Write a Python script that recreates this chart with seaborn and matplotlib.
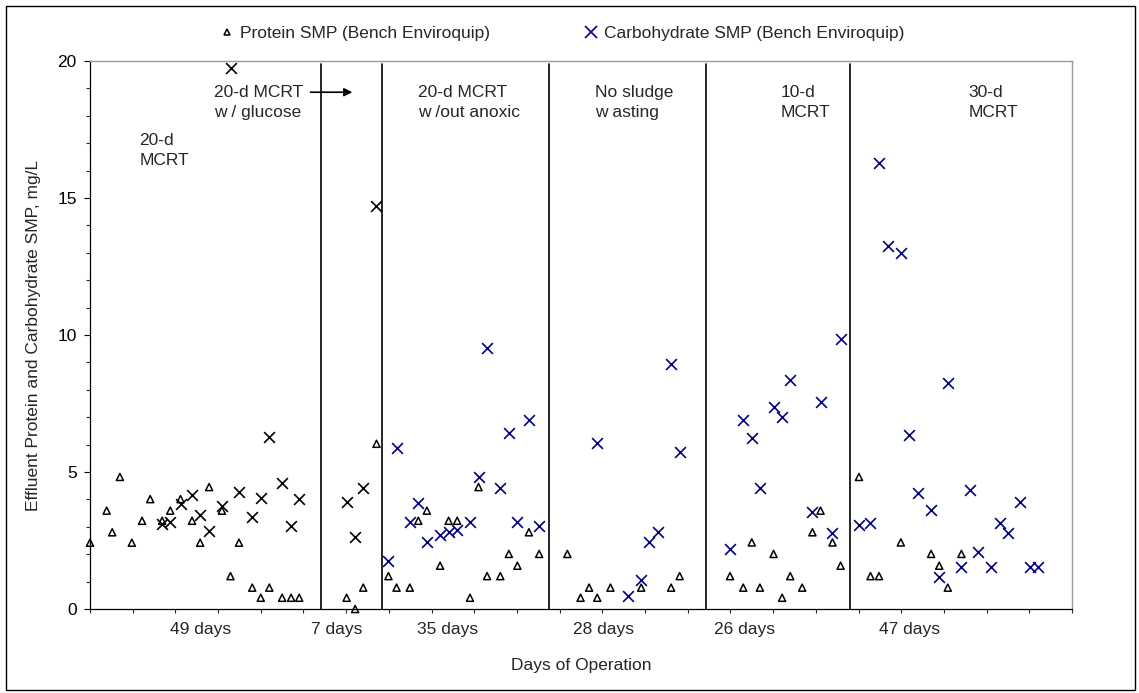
import matplotlib
matplotlib.use("Agg")
import matplotlib.pyplot as plt
import seaborn as sns
import numpy as np
from matplotlib.patches import Rectangle

# ---------------- data ----------------
protein_day = [0.0, 3.9, 5.2, 7.0, 9.8, 12.2, 14.1, 16.9, 18.8, 21.2, 23.9, 25.8, 27.9,
               30.9, 32.9, 34.9, 38.0, 40.0, 42.0, 45.0, 47.1, 49.0,
               60.1, 62.1, 64.0, 67.1,
               69.9, 71.8, 74.9, 76.9, 78.9, 82.0, 84.0, 86.0, 89.0, 91.0, 93.0, 96.1,
               98.1, 100.1, 102.8, 105.2,
               111.8, 114.9, 116.9, 118.8, 121.9, 129.1, 136.1, 138.1,
               149.9, 153.0, 155.0, 156.9, 160.1, 162.1, 164.0, 166.8, 169.2, 171.1,
               173.9, 175.8,
               180.1, 182.8, 184.8, 189.9, 197.0, 198.9, 200.9, 204.1]
protein_smp = [2.42, 3.59, 2.80, 4.82, 2.42, 3.22, 4.01, 3.22, 3.59, 4.01, 3.22, 2.42, 4.45,
               3.59, 1.20, 2.42, 0.78, 0.41, 0.78, 0.41, 0.41, 0.41,
               0.41, 0.00, 0.78, 6.03,
               1.20, 0.78, 0.78, 3.22, 3.59, 1.58, 3.22, 3.22, 0.41, 4.45, 1.20, 1.20,
               2.01, 1.58, 2.80, 2.01,
               2.01, 0.41, 0.78, 0.41, 0.78, 0.78, 0.78, 1.20,
               1.20, 0.78, 2.43, 0.78, 2.01, 0.41, 1.20, 0.78, 2.80, 3.59,
               2.43, 1.58,
               4.82, 1.20, 1.20, 2.43, 2.01, 1.58, 0.78, 2.01]

carb_day = [16.9, 18.8, 21.2, 23.9, 25.8, 27.9, 30.9, 33.0, 34.9, 38.0, 40.0, 42.0, 45.0,
            47.1, 49.0,
            60.1, 62.1, 64.0, 67.0,
            69.9, 71.8, 74.9, 76.9, 78.9, 82.0, 84.0, 86.0, 89.0, 91.0, 93.1, 96.1,
            98.1, 100.1, 102.8, 105.2,
            118.8, 125.9, 129.1, 131.0, 133.0, 136.1, 138.1,
            149.9, 153.0, 155.0, 156.9, 160.1, 162.1, 164.0, 169.2, 171.1, 173.9, 175.8,
            180.1, 182.8, 184.9, 186.8, 189.9, 191.8, 193.9, 197.0, 198.9, 200.9, 204.1,
            206.0, 208.0, 211.1, 213.1, 215.0, 217.8, 220.1, 222.0]
carb_smp = [3.09, 3.16, 3.83, 4.16, 3.43, 2.86, 3.76, 19.73, 4.28, 3.37, 4.04, 6.29, 4.59,
            3.04, 4.01,
            3.92, 2.62, 4.40, 14.72,
            1.76, 5.86, 3.16, 3.86, 2.43, 2.70, 2.82, 2.88, 3.16, 4.83, 9.54, 4.40,
            6.41, 3.16, 6.90, 3.04,
            6.05, 0.47, 1.06, 2.43, 2.80, 8.93, 5.74,
            2.19, 6.90, 6.23, 4.40, 7.38, 7.02, 8.36, 3.53, 7.57, 2.76, 9.84,
            3.07, 3.13, 16.27, 13.26, 13.00, 6.35, 4.22, 3.61, 1.16, 8.26, 1.52,
            4.34, 2.09, 1.52, 3.13, 2.76, 3.92, 1.52, 1.52]

phase_bounds = [54.0, 68.5, 107.5, 144.3, 178.0]
phase_day_labels = ["49 days", "7 days", "35 days", "28 days", "26 days", "47 days"]
phase_titles = ["20-d\nMCRT", "20-d MCRT\nw / glucose", "20-d MCRT\nw /out anoxic",
                "No sludge\nw asting", "10-d\nMCRT", "30-d\nMCRT"]

# ---------------- styling/layout ----------------
label_x = [26.0, 57.8, 83.7, 120.2, 153.2, 192.0]
title_x = [11.55, 29.0, 76.9, 118.3, 161.8, 205.7]
title_y = [16.74, 18.49, 18.49, 18.49, 18.49, 18.49]

sns.set_style("white")
plt.rcParams["font.family"] = ["Liberation Sans", "DejaVu Sans"]
FS = 12.5

fig = plt.figure(figsize=(11.39, 6.93), dpi=100)
ax = fig.add_axes([0.0790, 0.1212, 0.8622, 0.7908])

carb_day_a = np.array(carb_day)
carb_smp_a = np.array(carb_smp)
early = carb_day_a < phase_bounds[1]

sns.scatterplot(x=protein_day, y=protein_smp, ax=ax, marker="^", s=26,
                facecolors="none", edgecolors="black", linewidth=1.1,
                clip_on=False, zorder=4, legend=False)
sns.scatterplot(x=carb_day_a[early], y=carb_smp_a[early], ax=ax, marker="x", s=60,
                color="black", linewidth=1.2, clip_on=False, zorder=4, legend=False)
sns.scatterplot(x=carb_day_a[~early], y=carb_smp_a[~early], ax=ax, marker="x", s=60,
                color="#000080", linewidth=1.2, clip_on=False, zorder=4, legend=False)

for b in phase_bounds:
    ax.plot([b, b], [0, 19.9], color="black", lw=1.2, zorder=3)

ax.set_xlim(0, 230)
ax.set_ylim(0, 20)
ax.set_xticks(np.arange(0, 231, 10))
ax.set_xticklabels([])
ax.set_yticks([0, 5, 10, 15, 20])
ax.set_yticks(np.arange(0, 21, 1), minor=True)
ax.tick_params(axis="y", which="major", direction="out", length=4, width=0.8,
               labelsize=FS, pad=5.5, left=True, colors="black")
ax.tick_params(axis="y", which="minor", direction="out", length=3, width=0.8, left=True)
ax.tick_params(axis="x", which="major", direction="out", length=3, width=0.8, bottom=True)

for s in ["left", "bottom"]:
    ax.spines[s].set_color("black")
    ax.spines[s].set_linewidth(0.9)
for s in ["top", "right"]:
    ax.spines[s].set_color("#999999")
    ax.spines[s].set_linewidth(1.0)

ax.set_ylabel("Effluent Protein and Carbohydrate SMP, mg/L", fontsize=FS, labelpad=12)
ax.set_xlabel("Days of Operation", fontsize=FS)
ax.xaxis.set_label_coords(0.5, -0.09)

trans = matplotlib.transforms.blended_transform_factory(ax.transData, ax.transAxes)
for lx, lab in zip(label_x, phase_day_labels):
    ax.text(lx, -0.038, lab, transform=trans, ha="center", va="center", fontsize=FS)

for tx, ty, t in zip(title_x, title_y, phase_titles):
    ax.text(tx, ty, t, ha="left", va="center", fontsize=FS, linespacing=1.45, zorder=5)

ax.annotate("", xy=(62.1, 18.86), xytext=(51.0, 18.86),
            arrowprops=dict(arrowstyle="-|>", color="black", lw=1.2, mutation_scale=12))

# legend
h1 = plt.Line2D([], [], marker="^", ls="none", mfc="none", mec="black", ms=5, mew=1.1)
h2 = plt.Line2D([], [], marker="x", ls="none", color="#000080", ms=8, mew=1.2)
fig.legend([h1, h2], ["Protein SMP (Bench Enviroquip)", "Carbohydrate SMP (Bench Enviroquip)"],
           loc="center", bbox_to_anchor=(0.493, 0.952), ncol=2, frameon=False,
           fontsize=FS, handlelength=1.0, handletextpad=0.25, columnspacing=5.3)

fig.patches.append(Rectangle((6 / 1139, 3 / 693), 1129 / 1139, 684 / 693,
                             transform=fig.transFigure, fill=False, ec="black", lw=1.0))

fig.savefig("out.png", dpi=100, facecolor="white")
